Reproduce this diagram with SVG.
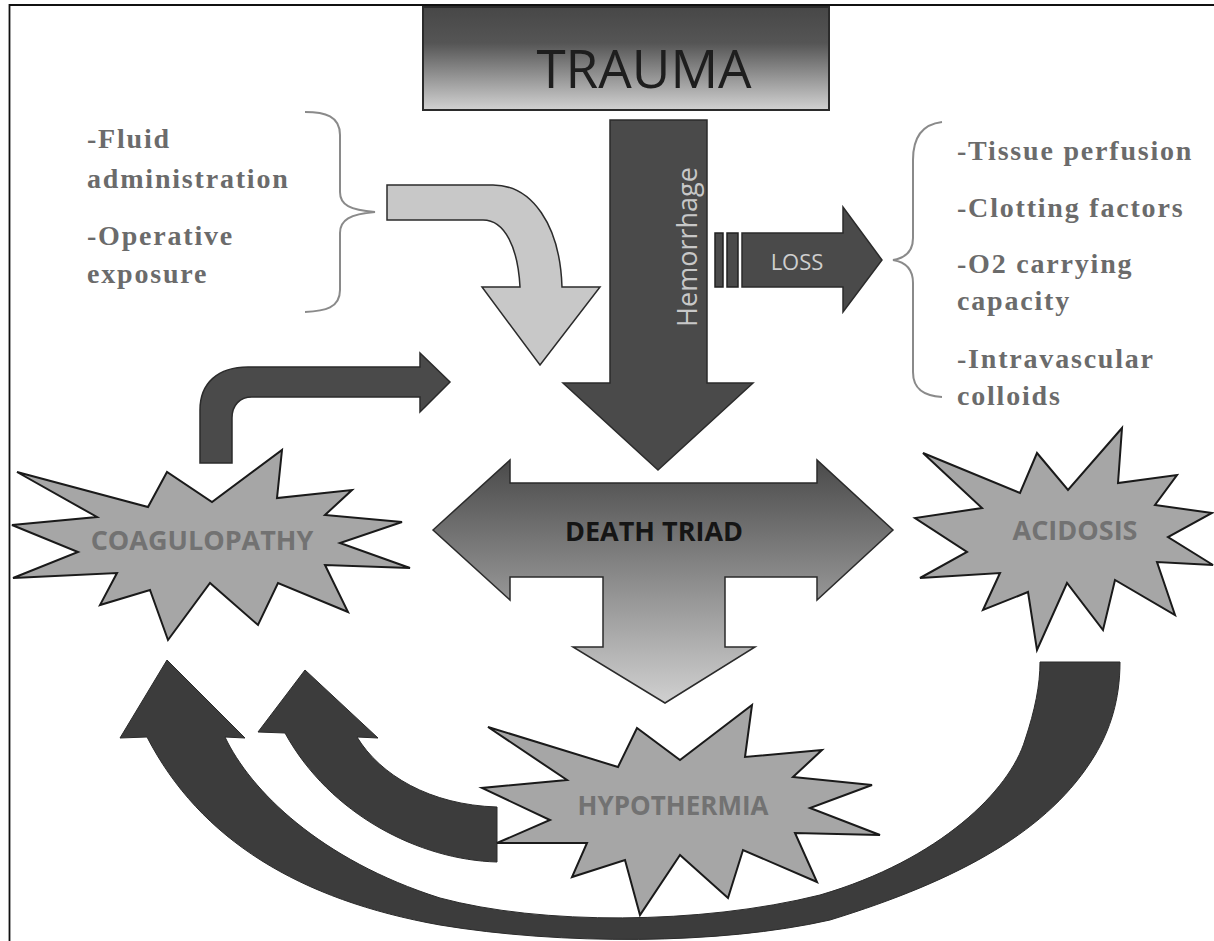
<svg xmlns="http://www.w3.org/2000/svg" width="1214" height="941" viewBox="0 0 1214 941">
<defs>
<linearGradient id="gTrauma" x1="0" y1="0" x2="0" y2="1">
<stop offset="0" stop-color="#474747"/>
<stop offset="0.35" stop-color="#555555"/>
<stop offset="1" stop-color="#d2d2d2"/>
</linearGradient>
<linearGradient id="gTriad" x1="0" y1="0" x2="0" y2="1">
<stop offset="0" stop-color="#4a4a4a"/>
<stop offset="0.45" stop-color="#868686"/>
<stop offset="1" stop-color="#d0d0d0"/>
</linearGradient>
<style>
.star{fill:#a6a6a6;stroke:#1a1a1a;stroke-width:2;stroke-linejoin:miter}
.dark{fill:#4a4a4a;stroke:#2b2b2b;stroke-width:1.5}
.darker{fill:#3c3c3c;stroke:#2b2b2b;stroke-width:1}
.light{fill:#c8c8c8;stroke:#2b2b2b;stroke-width:1.5}
.brace{fill:none;stroke:#8a8a8a;stroke-width:2}
.note{font-family:"Liberation Serif",serif;font-weight:bold;font-size:28px;fill:#6b6b6b;letter-spacing:1.8px}
.lbl{font-family:"Open Sans",sans-serif;font-weight:bold;fill:#727272;text-anchor:middle}
</style>
</defs>
<rect x="0" y="0" width="1214" height="941" fill="#ffffff"/>
<path d="M9.5,941 L9.5,5 L1214,5" fill="none" stroke="#111" stroke-width="1.8"/>

<g id="connectors">
<path id="arrow-acidosis-coag" class="darker" d="M167,660 L245,738 L225,737 C250,790 320,860 440,898 C540,925 700,925 820,895 C940,860 1010,790 1025,740 C1035,710 1040,685 1040,662 L1120,662 C1120,700 1110,730 1095,755 C1050,830 960,880 830,920 C720,945 560,945 440,925 C300,900 200,840 147,737 L120,738 Z"/>
<path id="arrow-hypo-coag" class="darker" d="M305,670 L378,738 L357,737 C380,775 430,805 497,807 L497,862 C420,860 330,815 285,733 L258,732 Z"/>
<path id="arrow-coag-up" class="dark" d="M200,463 L200,410 C200,383 218,367 248,367 L420,367 L420,353 L450,382 L420,412 L420,397 L252,397 C240,397 232,405 232,418 L232,463 Z"/>
<path id="arrow-fluid" class="light" d="M387,185 L493,185 C532,185 560,225 562,287 L600,287 L540,365 L482,287 L520,287 C518,248 505,220 483,220 L387,220 Z"/>
<g id="arrow-loss">
<rect x="715" y="233" width="8" height="54" fill="#4a4a4a" stroke="#222" stroke-width="1.5"/>
<rect x="727" y="233" width="11" height="54" fill="#4a4a4a" stroke="#222" stroke-width="1.5"/>
<path class="dark" d="M742,233 L843,233 L843,207 L882,260 L843,312 L843,287 L742,287 Z"/>
<text x="797" y="270" font-family="Open Sans, sans-serif" font-size="22" fill="#cfcfcf" text-anchor="middle">LOSS</text>
</g>
<path class="brace" d="M305,112 C325,112 340,116 340,135 L340,192 C340,205 350,210 375,212 C350,214 340,220 340,233 L340,290 C340,308 325,311 305,312"/>
<path class="brace" d="M942,122 C925,124 913,135 913,160 L913,238 C913,252 905,258 893,260 C905,262 913,268 913,283 L913,372 C913,390 925,396 942,397"/>
</g>

<g id="trauma">
<rect x="423" y="7" width="406" height="103" fill="url(#gTrauma)" stroke="#2b2b2b" stroke-width="2"/>
<text x="644" y="88" font-family="Open Sans, sans-serif" font-size="53" fill="#1e1e1e" text-anchor="middle">TRAUMA</text>
</g>

<g id="hemorrhage">
<path class="dark" d="M610,120 L707,120 L707,383 L753,383 L658,470 L563,383 L610,383 Z" fill="#4d4d4d"/>
<text transform="translate(697,247) rotate(-90)" font-family="Open Sans, sans-serif" font-size="27" fill="#c8c8c8" text-anchor="middle">Hemorrhage</text>
</g>

<g id="fluid-notes">
<text class="note" x="87" y="148">-Fluid</text>
<text class="note" x="87" y="188">administration</text>
<text class="note" x="87" y="245">-Operative</text>
<text class="note" x="87" y="283">exposure</text>
</g>

<g id="loss-notes">
<text class="note" x="957" y="160">-Tissue perfusion</text>
<text class="note" x="957" y="217">-Clotting factors</text>
<text class="note" x="957" y="273">-O2 carrying</text>
<text class="note" x="957" y="310">capacity</text>
<text class="note" x="957" y="368">-Intravascular</text>
<text class="note" x="957" y="405">colloids</text>
</g>

<g id="death-triad">
<path d="M433,530 L510,460 L510,483 L817,483 L817,460 L893,530 L817,600 L817,577 L725,577 L725,647 L755,647 L665,703 L573,647 L603,647 L603,577 L510,577 L510,600 Z" fill="url(#gTriad)" stroke="#2b2b2b" stroke-width="1.5"/>
<text x="654" y="541" font-family="Open Sans, sans-serif" font-weight="bold" font-size="27" fill="#151515" text-anchor="middle">DEATH TRIAD</text>
</g>

<g id="coagulopathy">
<polygon class="star" points="17,472 148,507 167,472 212,502 282,450 277,498 352,490 325,515 402,522 340,543 410,568 325,565 348,612 278,583 258,625 210,583 168,640 150,590 100,605 117,573 13,578 78,552 12,525 97,517"/>
<text class="lbl" x="202" y="550" font-size="27">COAGULOPATHY</text>
</g>

<g id="acidosis">
<polygon class="star" points="923,453 1020,493 1037,453 1068,490 1122,428 1118,483 1177,475 1155,505 1212,513 1168,537 1213,565 1157,562 1175,615 1115,580 1103,630 1067,583 1037,650 1028,592 983,610 1000,573 920,578 967,552 915,518 982,508"/>
<text class="lbl" x="1075" y="540" font-size="27">ACIDOSIS</text>
</g>

<g id="hypothermia">
<polygon class="star" points="488,727 618,767 637,728 680,760 752,705 745,757 822,750 793,777 872,785 810,808 880,835 795,833 817,882 743,850 728,898 680,855 640,915 625,860 572,877 587,843 497,843 550,820 482,788 567,780"/>
<text class="lbl" x="673" y="815" font-size="26">HYPOTHERMIA</text>
</g>
</svg>
